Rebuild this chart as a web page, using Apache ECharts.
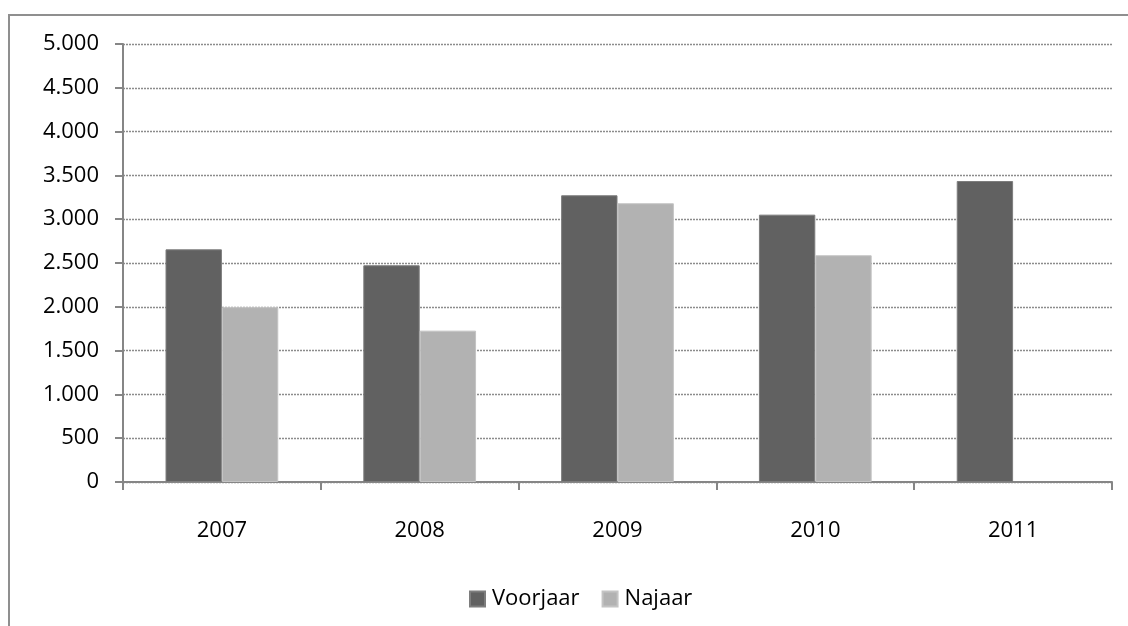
<!DOCTYPE html>
<html>
<head>
<meta charset="utf-8">
<script src="https://cdn.jsdelivr.net/npm/echarts@6/dist/echarts.min.js"></script>
<style>
    html, body { margin: 0; padding: 0; background: #fff; }
    #chart { width: 1128px; height: 626px; }
</style>
</head>
<body>
<div id="chart"></div>
<script>
// jaren en aantallen
const jaren = ['2007', '2008', '2009', '2010', '2011'];
const voorjaar = [2656, 2474, 3273, 3052, 3436];
const najaar = [1996, 1728, 3182, 2588, null];

const fmt = v => String(v).replace(/\B(?=(\d{3})+(?!\d))/g, '.');

const chart = echarts.init(document.getElementById('chart'));
const font = '"Open Sans", sans-serif';

chart.setOption({
    animation: false,
    textStyle: { fontFamily: font },
    graphic: [{
        type: 'rect',
        shape: { x: 9, y: 15, width: 1140, height: 640 },
        style: { fill: 'none', stroke: '#8f8f8f', lineWidth: 2 },
        silent: true
    }],
    grid: { left: 123, right: 16, top: 44, bottom: 144 },
    legend: {
        left: 464,
        top: 583,
        itemWidth: 15,
        itemHeight: 15,
        itemGap: 22,
        icon: 'rect',
        textStyle: { fontFamily: font, fontSize: 22, color: '#000', padding: [0, 0, 0, 2] },
        data: ['Voorjaar', 'Najaar']
    },
    xAxis: {
        type: 'category',
        data: jaren,
        axisLine: { lineStyle: { color: '#868686', width: 2 } },
        axisTick: { show: true, length: 8, lineStyle: { color: '#868686', width: 2 } },
        axisLabel: { color: '#000', fontSize: 22, margin: 38, fontFamily: font }
    },
    yAxis: {
        type: 'value',
        min: 0,
        max: 5000,
        interval: 500,
        axisLine: { show: true, lineStyle: { color: '#868686', width: 2 } },
        axisTick: { show: true, length: 8, lineStyle: { color: '#868686', width: 2 } },
        axisLabel: { color: '#000', fontSize: 22, margin: 24, fontFamily: font, formatter: fmt },
        splitLine: { lineStyle: { color: '#8c8c8c', width: 1.3, type: [2, 1] } }
    },
    series: [
        {
            name: 'Voorjaar',
            type: 'bar',
            data: voorjaar,
            barGap: '0%',
            barCategoryGap: '43%',
            itemStyle: { color: '#616161', borderColor: '#7d7d7d', borderWidth: 1 }
        },
        {
            name: 'Najaar',
            type: 'bar',
            data: najaar,
            itemStyle: { color: '#b2b2b2', borderColor: '#c4c4c4', borderWidth: 1 }
        }
    ]
});
</script>
</body>
</html>
